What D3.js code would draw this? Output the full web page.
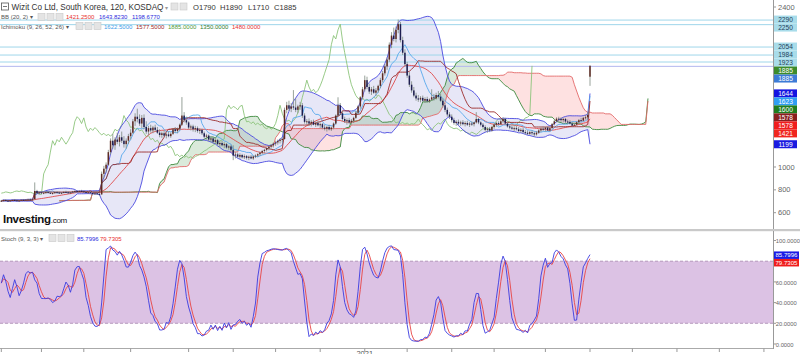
<!DOCTYPE html>
<html><head><meta charset="utf-8">
<script src="https://cdn.jsdelivr.net/npm/d3@7"></script>
<style>body{margin:0;background:#fff;} svg{display:block;font-family:"Liberation Sans",Arial,sans-serif;}</style>
</head><body><svg id="c" width="800" height="354"></svg>
<script>
// ---------- DATA ----------
const open = [
700,705,710,706,702,708,712,709,704,707,
713,710,714,716,712,718,790,772,778,770,
775,780,774,769,772,779,776,771,775,782,
778,773,777,786,790,785,791,787,781,776,
779,772,766,770,763,760,940,985,1020,1130,
1230,1190,1240,1220,1260,1230,1200,1230,1270,1300,
1400,1440,1420,1380,1430,1350,1310,1340,1320,1345,
1325,1300,1280,1295,1275,1285,1270,1290,1330,1315,
1335,1370,1450,1410,1390,1345,1355,1330,1340,1315,
1325,1295,1265,1275,1240,1250,1220,1235,1200,1210,
1190,1200,1170,1180,1150,1100,1110,1090,1105,1085,
1095,1080,1090,1075,1092,1100,1112,1125,1140,1150,
1165,1178,1190,1205,1215,1228,1238,1245,1500,1540,
1510,1530,1520,1500,1530,1540,1450,1395,1400,1380,
1395,1370,1385,1365,1375,1345,1335,1350,1330,1345,
1380,1450,1540,1470,1420,1400,1410,1390,1405,1430,
1475,1530,1610,1680,1760,1700,1660,1680,1650,1670,
1710,1760,1820,1880,1940,2070,2150,2120,2200,2250,
2110,2000,1900,1800,1720,1670,1625,1600,1590,1605,
1580,1595,1575,1590,1610,1600,1630,1615,1580,1540,
1500,1460,1440,1410,1385,1395,1380,1390,1375,1385,
1370,1380,1375,1390,1420,1390,1370,1350,1325,1335,
1320,1350,1370,1385,1375,1400,1420,1380,1355,1345,
1335,1340,1330,1315,1325,1305,1300,1290,1305,1295,
1285,1300,1320,1335,1330,1345,1320,1340,1375,1400,
1423,1420,1410,1420,1398,1395,1380,1362,1370,1392,
1410,1405,1430,1435,1790];
const high = [
712,715,718,712,710,716,720,714,711,716,
720,717,722,724,720,865,800,785,790,782,
786,788,782,778,783,790,784,780,786,792,
787,782,790,796,798,795,800,795,790,786,
788,780,775,778,772,960,1010,1040,1150,1250,
1290,1260,1300,1280,1310,1270,1250,1290,1330,1420,
1470,1510,1460,1455,1460,1400,1360,1370,1360,1370,
1350,1330,1310,1320,1300,1310,1305,1340,1350,1345,
1380,1612,1480,1440,1400,1370,1370,1360,1355,1340,
1335,1310,1290,1285,1265,1260,1250,1245,1225,1230,
1215,1210,1190,1195,1190,1130,1125,1120,1115,1110,
1105,1100,1105,1100,1110,1120,1135,1150,1160,1175,
1190,1200,1215,1230,1240,1250,1260,1520,1570,1580,
1560,1673,1600,1545,1570,1560,1470,1420,1425,1410,
1415,1400,1405,1390,1385,1370,1360,1370,1355,1390,
1460,1610,1560,1490,1440,1425,1430,1420,1440,1490,
1540,1620,1700,1800,1790,1730,1700,1710,1690,1720,
1780,1840,1900,1960,2090,2180,2220,2230,2290,2270,
2140,2030,1920,1830,1750,1700,1650,1630,1620,1625,
1610,1615,1600,1680,1640,1650,1665,1640,1600,1560,
1520,1480,1460,1430,1410,1415,1405,1410,1400,1405,
1395,1400,1395,1480,1430,1400,1385,1365,1345,1350,
1360,1380,1395,1400,1410,1435,1430,1395,1370,1365,
1355,1360,1350,1340,1345,1325,1320,1315,1320,1310,
1315,1330,1345,1355,1350,1355,1350,1385,1415,1435,
1440,1435,1430,1430,1415,1410,1395,1385,1400,1420,
1430,1440,1455,1480,1890];
const low = [
695,700,702,698,696,703,706,700,698,702,
707,704,709,710,706,716,765,760,768,762,
766,770,765,760,766,772,768,763,770,775,
770,766,772,779,782,778,783,778,772,768,
770,762,758,760,752,758,900,950,1010,1110,
1160,1150,1200,1180,1210,1170,1160,1200,1240,1290,
1360,1390,1360,1340,1330,1290,1280,1300,1295,1310,
1290,1260,1255,1265,1250,1260,1255,1280,1300,1295,
1320,1360,1390,1370,1330,1320,1310,1305,1300,1290,
1280,1250,1240,1225,1215,1205,1200,1190,1175,1180,
1165,1160,1150,1140,1060,1075,1080,1070,1075,1070,
1065,1060,1068,1062,1078,1085,1098,1110,1120,1135,
1145,1160,1170,1185,1195,1205,1215,1240,1470,1490,
1480,1500,1480,1470,1500,1430,1380,1370,1360,1355,
1365,1350,1355,1340,1330,1320,1310,1320,1315,1330,
1370,1440,1460,1400,1385,1370,1375,1370,1385,1420,
1460,1510,1590,1660,1680,1640,1630,1640,1620,1650,
1690,1740,1800,1850,1920,2040,2100,2090,2170,2090,
1980,1880,1780,1700,1650,1610,1580,1570,1565,1570,
1560,1565,1560,1580,1580,1590,1600,1570,1520,1480,
1440,1420,1390,1370,1360,1365,1360,1365,1355,1360,
1350,1360,1355,1380,1375,1355,1340,1310,1300,1305,
1310,1335,1350,1360,1365,1385,1370,1345,1330,1325,
1315,1320,1305,1300,1295,1285,1280,1280,1280,1265,
1275,1290,1305,1315,1310,1315,1310,1335,1365,1390,
1395,1395,1390,1385,1375,1372,1355,1358,1365,1385,
1395,1400,1415,1420,1710];
const close = [
705,710,706,702,708,712,709,704,707,713,
710,714,716,712,718,790,772,778,770,775,
780,774,769,772,779,776,771,775,782,778,
773,777,786,790,785,791,787,781,776,779,
772,766,770,763,760,940,985,1020,1130,1230,
1190,1240,1220,1260,1230,1200,1230,1270,1300,1400,
1440,1420,1380,1430,1350,1310,1340,1320,1345,1325,
1300,1280,1295,1275,1285,1270,1290,1330,1315,1335,
1370,1450,1410,1390,1345,1355,1330,1340,1315,1325,
1295,1265,1275,1240,1250,1220,1235,1200,1210,1190,
1200,1170,1180,1150,1100,1110,1090,1105,1085,1095,
1080,1090,1075,1092,1100,1112,1125,1140,1150,1165,
1178,1190,1205,1215,1228,1238,1245,1500,1540,1510,
1530,1520,1500,1530,1540,1450,1395,1400,1380,1395,
1370,1385,1365,1375,1345,1335,1350,1330,1345,1380,
1450,1540,1470,1420,1400,1410,1390,1405,1430,1475,
1530,1610,1680,1760,1700,1660,1680,1650,1670,1710,
1760,1820,1880,1940,2070,2150,2120,2200,2250,2110,
2000,1900,1800,1720,1670,1625,1600,1590,1605,1580,
1595,1575,1590,1610,1600,1630,1615,1580,1540,1500,
1460,1440,1410,1385,1395,1380,1390,1375,1385,1370,
1380,1375,1390,1420,1390,1370,1350,1325,1335,1320,
1350,1370,1385,1375,1400,1420,1380,1355,1345,1335,
1340,1330,1315,1325,1305,1300,1290,1305,1295,1285,
1300,1320,1335,1330,1345,1320,1340,1375,1400,1423,
1420,1410,1420,1398,1395,1380,1362,1370,1392,1410,
1405,1430,1435,1455,1885];

const priceTicks = [600, 800, 1000, 1200, 1400, 1600, 1800, 2000, 2200, 2400];
const stochTicks = [0, 20, 40, 60, 80, 100];
const hLevels = [2290, 2250, 2054, 1984, 1923];
const bbLegend = [1421.25, 1643.823, 1198.677];          // middle, upper, lower
const ichiLegend = [1622.5, 1577.5, 1885, 1350, 1480];   // tenkan, kijun, chikou, spanA, spanB
const stochLegend = [85.7996, 79.7305];                  // %K, %D
const tagValues = [1885, 1885, 1644, 1623, 1600, 1578, 1578, 1421, 1199];
const timeTickBars = [0, 18, 37, 58, 84, 104, 123, 143, 163, 182, 202, 221, 244, 264, 283, 303, 322, 342];
const timeTickLabels = {163: "2021"};
const titleText = "Wizit Co Ltd, South Korea, 120, KOSDAQ";

// ---------- INDICATORS ----------
const N = close.length;
const idx = d3.range(N);
const hl = (i, n) => { const s = Math.max(0, i - n + 1); return (d3.max(high.slice(s, i + 1)) + d3.min(low.slice(s, i + 1))) / 2; };
const bb = idx.map(i => { const w = close.slice(Math.max(0, i - 19), i + 1); const m = d3.mean(w);
  const sd = Math.sqrt(d3.mean(w, v => (v - m) * (v - m))); return {i, m, u: m + 2 * sd, l: m - 2 * sd}; });
const tenkan = idx.map(i => ({i, v: hl(i, 9)}));
const kijun = idx.map(i => ({i, v: hl(i, 26)}));
const cloud = idx.map(i => ({i: i + 26, a: (tenkan[i].v + kijun[i].v) / 2, b: hl(i, 52)}));
const chikou = idx.filter(i => i >= 26).map(i => ({i: i - 26, v: close[i]}));
const rawK = idx.map(i => { const s = Math.max(0, i - 8); const hh = d3.max(high.slice(s, i + 1)), ll = d3.min(low.slice(s, i + 1));
  return hh === ll ? 50 : (close[i] - ll) / (hh - ll) * 100; });
const sm = (a, i, n) => d3.mean(a.slice(Math.max(0, i - n + 1), i + 1));
const K = idx.map(i => sm(rawK, i, 3));
const D = idx.map(i => sm(K, i, 3));

// ---------- SCALES ----------
const svg = d3.select("#c");
const AX = 773;
const x = d3.scaleLinear().domain([0, N - 1]).range([1.3, 590]);
const y = d3.scaleLinear().domain([600, 2400]).range([212.7, 7]);
const ys = d3.scaleLinear().domain([0, 100]).range([344, 240.5]);

const defs = svg.append("defs");
defs.append("clipPath").attr("id", "cm").append("rect").attr("x", 0).attr("y", 0).attr("width", AX).attr("height", 229);
defs.append("clipPath").attr("id", "cs").append("rect").attr("x", 0).attr("y", 232).attr("width", AX).attr("height", 116);

// ---------- MAIN PANEL ----------
const gm = svg.append("g").attr("clip-path", "url(#cm)");
gm.append("path").datum(bb).attr("fill", "rgba(105,105,205,0.16)")
  .attr("d", d3.area().x(d => x(d.i)).y0(d => y(d.l)).y1(d => y(d.u)));
gm.append("path").datum(cloud).attr("fill", "rgba(70,150,70,0.2)")
  .attr("d", d3.area().x(d => x(d.i)).y0(d => y(d.b)).y1(d => y(Math.max(d.a, d.b))));
gm.append("path").datum(cloud).attr("fill", "rgba(250,90,90,0.18)")
  .attr("d", d3.area().x(d => x(d.i)).y0(d => y(d.a)).y1(d => y(Math.max(d.a, d.b))));

gm.selectAll("line.h").data(hLevels).enter().append("line")
  .attr("x1", 0).attr("x2", AX).attr("y1", d => y(d) + 0.5).attr("y2", d => y(d) + 0.5)
  .attr("stroke", "#9fd6ea").attr("stroke-width", 1);
gm.append("line").attr("x1", 0).attr("x2", AX).attr("y1", y(close[N - 1]) + 0.5).attr("y2", y(close[N - 1]) + 0.5)
  .attr("stroke", "#b3b8ef").attr("stroke-width", 1);

const ln = (data, acc, color, w) => gm.append("path").datum(data).attr("fill", "none").attr("stroke", color)
  .attr("stroke-width", w || 0.9).attr("d", d3.line().x(d => x(d.i)).y(d => y(acc(d))));
ln(cloud, d => d.a, "#3d8a3d");
ln(cloud, d => d.b, "#e36a6a");
ln(chikou, d => d.v, "#8cc47a");
ln(bb, d => d.u, "#4b4be0");
ln(bb, d => d.l, "#4b4be0");
ln(bb, d => d.m, "#e04c4c");
ln(tenkan, d => d.v, "#57a8ec");
ln(kijun, d => d.v, "#9c2c2c");

const cg = gm.append("g");
cg.selectAll("line").data(idx).enter().append("line")
  .attr("x1", i => x(i)).attr("x2", i => x(i)).attr("y1", i => y(high[i])).attr("y2", i => y(low[i]))
  .attr("stroke", "#7d8a80").attr("stroke-width", 0.8);
cg.selectAll("rect").data(idx).enter().append("rect")
  .attr("x", i => x(i) - 0.75).attr("width", 1.5)
  .attr("y", i => y(Math.max(open[i], close[i])))
  .attr("height", i => Math.max(1, Math.abs(y(open[i]) - y(close[i]))))
  .attr("fill", i => close[i] >= open[i] ? "#5e2b24" : "#1d1d50");

// logo
svg.append("text").attr("x", 3).attr("y", 223).attr("font-size", 11.5).attr("font-weight", "bold")
  .attr("fill", "#111").attr("letter-spacing", -0.3)
  .text("Investing").append("tspan").attr("font-size", 8).attr("font-weight", "normal").text(".com");

// ---------- STOCH PANEL ----------
const gs = svg.append("g").attr("clip-path", "url(#cs)");
gs.append("rect").attr("x", 0).attr("width", AX).attr("y", ys(80)).attr("height", ys(20) - ys(80)).attr("fill", "#dcc2e4");
gs.selectAll("line.d").data([20, 80]).enter().append("line").attr("x1", 0).attr("x2", AX)
  .attr("y1", d => ys(d)).attr("y2", d => ys(d)).attr("stroke", "#a888b0").attr("stroke-dasharray", "3,2").attr("stroke-width", 0.8);
gs.append("path").datum(D).attr("fill", "none").attr("stroke", "#e84545").attr("stroke-width", 0.9)
  .attr("d", d3.line().x((d, i) => x(i)).y(d => ys(d)));
gs.append("path").datum(K).attr("fill", "none").attr("stroke", "#3b3be0").attr("stroke-width", 0.9)
  .attr("d", d3.line().x((d, i) => x(i)).y(d => ys(d)));

// separators / axes
svg.append("rect").attr("x", 0).attr("y", 229).attr("width", 800).attr("height", 2.2).attr("fill", "#c9c9c9");
svg.append("line").attr("x1", AX + 0.5).attr("x2", AX + 0.5).attr("y1", 0).attr("y2", 229).attr("stroke", "#999");
svg.append("line").attr("x1", AX + 0.5).attr("x2", AX + 0.5).attr("y1", 231).attr("y2", 349).attr("stroke", "#999");
svg.append("line").attr("x1", 0).attr("x2", AX).attr("y1", 348.5).attr("y2", 348.5).attr("stroke", "#aaa");
svg.selectAll("line.tt").data(timeTickBars).enter().append("line")
  .attr("x1", d => x(d)).attr("x2", d => x(d)).attr("y1", 348.5).attr("y2", 352).attr("stroke", "#999");
svg.selectAll("text.tl").data(timeTickBars.filter(d => timeTickLabels[d])).enter().append("text")
  .attr("x", d => x(d)).attr("y", 356).attr("text-anchor", "middle").attr("font-size", 7.5).attr("fill", "#555")
  .text(d => timeTickLabels[d]);

// right-side value tags (stacked)
const hColors = ["#a8dcea", "#a8dcea", "#a8dcea", "#a8dcea", "#a8dcea"];
const tagColors = ["#3c8b2c", "#3d7bd6", "#1414e0", "#2f9ef2", "#1f7d1f", "#8a1f1f", "#f01d1d", "#f0261e", "#1a1ae0"];
let tags = hLevels.map((v, k) => ({v, bg: hColors[k], fg: "#23425a"}))
  .concat(tagValues.map((v, k) => ({v, bg: tagColors[k], fg: "#fff"})));
let prev = -100;
tags.forEach(t => { let yy = Math.max(y(t.v), prev + 8); t.y = yy; prev = yy; });
const sTags = [{v: stochLegend[0], bg: "#1a1ae6"}, {v: stochLegend[1], bg: "#f01c1c"}];
prev = -100;
sTags.forEach(t => { const yy = Math.max(ys(t.v), prev + 7.5); t.y = yy; prev = yy; });

// price axis ticks (labels hidden where a value tag covers them)
const pa = svg.append("g");
pa.selectAll("line").data(priceTicks).enter().append("line").attr("x1", AX).attr("x2", AX + 3)
  .attr("y1", d => y(d)).attr("y2", d => y(d)).attr("stroke", "#999");
pa.selectAll("text").data(priceTicks.filter(d => !tags.some(t => Math.abs(t.y - y(d)) < 8))).enter().append("text")
  .attr("x", AX + 5).attr("y", d => y(d) + 2.6).attr("font-size", 7.5).attr("fill", "#666").text(d => d);
const sa = svg.append("g");
sa.selectAll("line").data(stochTicks).enter().append("line").attr("x1", AX).attr("x2", AX + 3)
  .attr("y1", d => ys(d)).attr("y2", d => ys(d)).attr("stroke", "#999");
sa.selectAll("text").data(stochTicks.filter(d => !sTags.some(t => Math.abs(t.y - ys(d)) < 7.5))).enter().append("text")
  .attr("x", AX + 2.8).attr("y", d => ys(d) + 2.8).attr("font-size", 5.8).attr("fill", "#666").text(d => d3.format(".4f")(d));

const tg = svg.append("g");
tags.forEach(t => {
  tg.append("rect").attr("x", AX + 1).attr("y", t.y - 4).attr("width", 23).attr("height", 8).attr("fill", t.bg);
  tg.append("text").attr("x", AX + 12.5).attr("y", t.y + 2.4).attr("text-anchor", "middle").attr("font-size", 6.6)
    .attr("fill", t.fg).text(t.v);
});
sTags.forEach(t => {
  tg.append("rect").attr("x", AX + 1).attr("y", t.y - 3.75).attr("width", 25).attr("height", 7.5).attr("fill", t.bg);
  tg.append("text").attr("x", AX + 13.5).attr("y", t.y + 2.3).attr("text-anchor", "middle").attr("font-size", 6.1)
    .attr("fill", "#fff").text(d3.format(".4f")(t.v)); });

// ---------- HEADER ----------
const hd = svg.append("g").attr("fill", "#333");
const icon = (g, xx, yy) => g.append("rect").attr("x", xx).attr("y", yy).attr("width", 7).attr("height", 7)
  .attr("fill", "#e4e4e4").attr("stroke", "#c8c8c8").attr("stroke-width", 0.6);
hd.append("rect").attr("x", 1.5).attr("y", 3).attr("width", 7).attr("height", 7).attr("fill", "none").attr("stroke", "#555").attr("stroke-width", 0.8);
hd.append("line").attr("x1", 3).attr("x2", 7).attr("y1", 6.5).attr("y2", 6.5).attr("stroke", "#555").attr("stroke-width", 0.8);
hd.append("text").attr("x", 11.5).attr("y", 10).attr("font-size", 8.2).text(titleText);
hd.append("text").attr("x", 165).attr("y", 9.5).attr("font-size", 6).attr("fill", "#999").text("▾");
icon(hd, 171, 3); icon(hd, 180, 3);
const ohlc = [["O", open[N - 1]], ["H", high[N - 1]], ["L", low[N - 1]], ["C", close[N - 1]]];
const ohlcX = [193, 220, 248, 274];
ohlc.forEach((o, k) => hd.append("text").attr("x", ohlcX[k]).attr("y", 10).attr("font-size", 7.6).text(o[0] + o[1]));

const f4 = d3.format(".4f");
hd.append("text").attr("x", 1).attr("y", 19.3).attr("font-size", 6).attr("fill", "#555").text("BB (20, 2) ▾");
icon(hd, 38, 13.5); icon(hd, 47, 13.5); icon(hd, 56, 13.5);
const bbCols = ["#e8302e", "#2b2bdc", "#2b2bdc"], bbX = [66, 99, 132];
bbLegend.forEach((v, k) => hd.append("text").attr("x", bbX[k]).attr("y", 19.3).attr("font-size", 6).attr("fill", bbCols[k]).text(f4(v)));

hd.append("text").attr("x", 1).attr("y", 28.5).attr("font-size", 6).attr("fill", "#555").text("Ichimoku (9, 26, 52, 26) ▾");
icon(hd, 76, 22.5); icon(hd, 85, 22.5); icon(hd, 94, 22.5);
const icCols = ["#3d9ce8", "#9c2a2a", "#4f9a3a", "#2e7d2e", "#e83030"], icX = [104, 136, 168, 200, 232];
ichiLegend.forEach((v, k) => hd.append("text").attr("x", icX[k]).attr("y", 28.5).attr("font-size", 6).attr("fill", icCols[k]).text(f4(v)));

hd.append("text").attr("x", 1).attr("y", 240.5).attr("font-size", 6).attr("fill", "#555").text("Stoch (9, 3, 3) ▾");
icon(hd, 49, 234.5); icon(hd, 58, 234.5); icon(hd, 67, 234.5);
const stCols = ["#2b2bdc", "#e83030"], stX = [77, 100];
stochLegend.forEach((v, k) => hd.append("text").attr("x", stX[k]).attr("y", 240.5).attr("font-size", 6).attr("fill", stCols[k]).text(f4(v)));
</script></body></html>
